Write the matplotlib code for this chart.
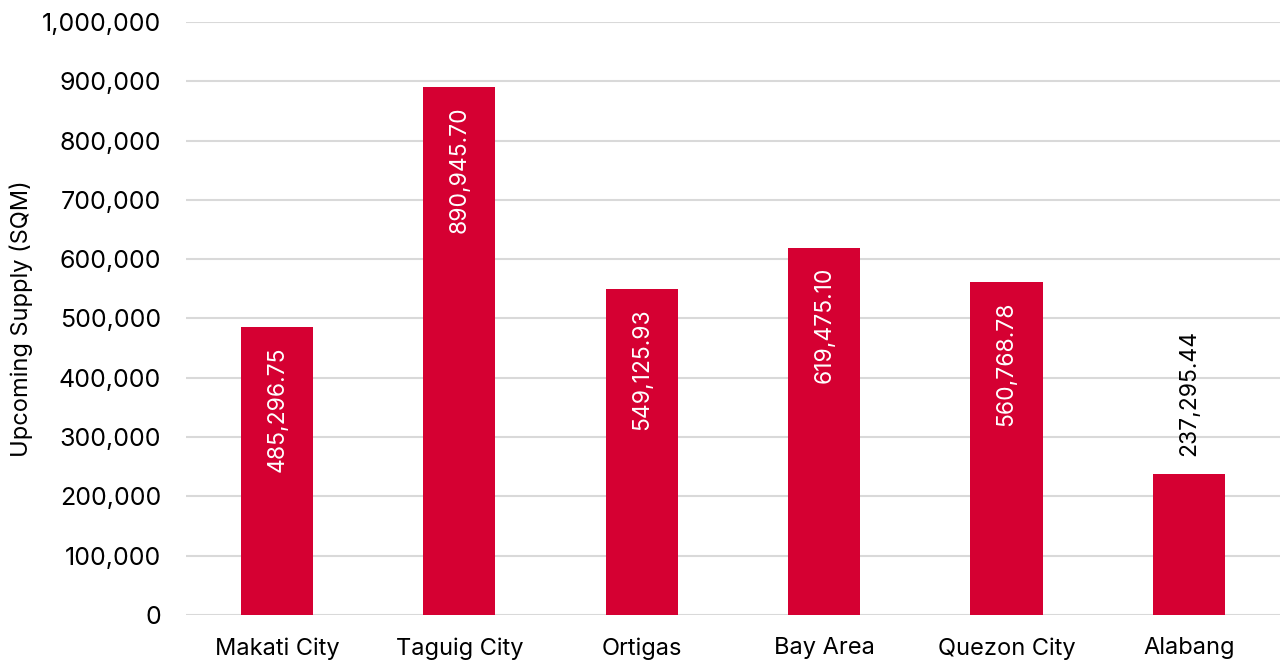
import matplotlib.pyplot as plt
from matplotlib.ticker import FuncFormatter

plt.rcParams['font.family'] = ['Inter', 'DejaVu Sans']

# Data
locations = ['Makati City', 'Taguig City', 'Ortigas', 'Bay Area', 'Quezon City', 'Alabang']
supply = [485296.75, 890945.70, 549125.93, 619475.10, 560768.78, 237295.44]
bar_color = '#D50032'

fig = plt.figure(figsize=(12.8, 6.64), dpi=100)
ax = fig.add_axes([0.1453, 0.0738, 0.8547, 0.8931])

x = range(len(locations))
ax.bar(x, supply, width=0.395, color=bar_color, zorder=3)

ax.set_xlim(-0.5, len(locations) - 0.5)
ax.set_ylim(0, 1000000)
ax.set_yticks(range(0, 1000001, 100000))
ax.yaxis.set_major_formatter(FuncFormatter(lambda v, p: f'{v:,.0f}'))
ax.set_xticks(list(x))
ax.set_xticklabels(locations)
ax.tick_params(axis='both', length=0, colors='black')
ax.tick_params(axis='y', pad=18, labelsize=18)
ax.tick_params(axis='x', pad=16, labelsize=17)
ax.grid(axis='y', color='#d9d9d9', linewidth=1.5, zorder=0)
for s in ax.spines.values():
    s.set_visible(False)

ax.set_ylabel('Upcoming Supply (SQM)', fontsize=17, labelpad=6)

# Value labels: inside the bar when it fits, above it otherwise
for i, v in enumerate(supply):
    txt = f'{v:,.2f}'
    if v > 300000:
        ax.annotate(txt, (i, v), xytext=(0, -14), textcoords='offset points',
                    rotation=90, ha='center', va='top', color='white', fontsize=16.5)
    else:
        ax.annotate(txt, (i, v), xytext=(0, 13), textcoords='offset points',
                    rotation=90, ha='center', va='bottom', color='black', fontsize=16.5)

fig.savefig('out.png', dpi=100)
